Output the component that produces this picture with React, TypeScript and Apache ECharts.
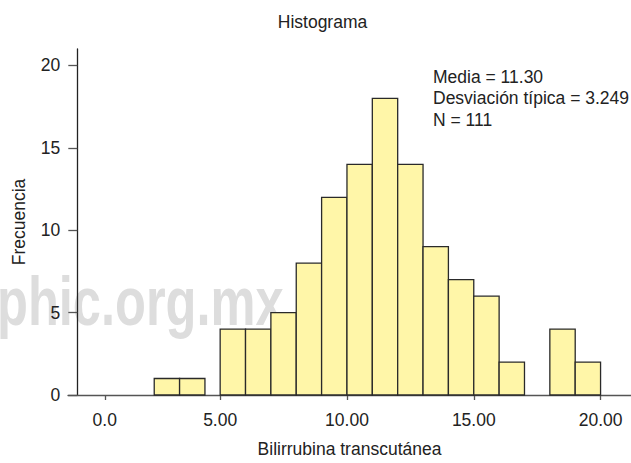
import React, { useEffect, useRef } from "react";
import * as echarts from "echarts";

// ---- data ----
const binStarts = [2.4, 3.4, 5, 6, 7, 8, 9, 10, 11, 12, 13, 14, 15, 16, 18, 19];
const binEnds = [3.4, 4.4, 6, 7, 8, 9, 10, 11, 12, 13, 14, 15, 16, 17, 19, 20];
const frequencies = [1, 1, 4, 4, 5, 8, 12, 14, 18, 14, 9, 7, 6, 2, 4, 2];
const xTickValues = [0.45, 5, 10, 15, 20];
const xTickLabels = ["0.0", "5.00", "10.00", "15.00", "20.00"];
const yTickValues = [0, 5, 10, 15, 20];
const statLines = ["Media = 11.30", "Desviación típica = 3.249", "N = 111"];
const chartTitle = "Histograma";
const xAxisName = "Bilirrubina transcutánea";
const yAxisName = "Frecuencia";
const watermarkText = "phic.org.mx";

const FONT = "'Liberation Sans', Arial, sans-serif";
const TEXT_COLOR = "#222";
const FS = 17.5;

export default function App() {
  const ref = useRef<HTMLDivElement>(null);
  useEffect(() => {
    if (!ref.current) return;
    const chart = echarts.init(ref.current, null, { renderer: "svg" });
    const labelFor = (v: number) => {
      let best = 0;
      for (let i = 1; i < xTickValues.length; i++) {
        if (Math.abs(xTickValues[i] - v) < Math.abs(xTickValues[best] - v)) best = i;
      }
      return xTickLabels[best];
    };
    const option: any = {
      animation: false,
      backgroundColor: "#ffffff",
      grid: { left: 68, right: 0, top: 49, bottom: 63, containLabel: false },
      xAxis: {
        type: "value",
        min: -1,
        max: 21.2,
        axisLine: { show: true, onZero: false, lineStyle: { color: "#555", width: 1.3 } },
        axisTick: { show: true, length: 5, customValues: xTickValues, lineStyle: { color: "#555", width: 1.3 } },
        axisLabel: {
          customValues: xTickValues,
          formatter: (v: number) => labelFor(v),
          margin: 16,
          fontSize: FS,
          color: TEXT_COLOR,
          fontFamily: FONT,
        },
        splitLine: { show: false },
        name: xAxisName,
        nameLocation: "middle",
        nameGap: 45,
        nameTextStyle: { fontSize: FS, color: TEXT_COLOR, fontFamily: FONT },
      },
      yAxis: {
        type: "value",
        min: 0,
        max: 21,
        offset: -9.3,
        axisLine: { show: true, onZero: false, lineStyle: { color: "#222", width: 1.3 } },
        axisTick: { show: true, length: 9, customValues: yTickValues, lineStyle: { color: "#555", width: 1.3 } },
        axisLabel: {
          customValues: yTickValues,
          margin: 17,
          fontSize: FS,
          color: TEXT_COLOR,
          fontFamily: FONT,
        },
        splitLine: { show: false },
        name: yAxisName,
        nameLocation: "middle",
        nameGap: 49.5,
        nameRotate: 90,
        nameTextStyle: { fontSize: FS, color: TEXT_COLOR, fontFamily: FONT },
      },
      series: [
        {
          type: "custom",
          z: 5,
          data: binStarts.map((s, i) => [s, binEnds[i], frequencies[i]]),
          encode: { x: [0, 1], y: 2 },
          renderItem: (params: any, api: any) => {
            const p0 = api.coord([api.value(0), api.value(2)]);
            const p1 = api.coord([api.value(1), 0]);
            return {
              type: "rect",
              shape: { x: p0[0], y: p0[1], width: p1[0] - p0[0], height: p1[1] - p0[1] },
              style: { fill: "#FFF6A8", stroke: "#2a2a2a", lineWidth: 1.3 },
            };
          },
        },
      ],
      graphic: [
        {
          type: "text",
          z: -10,
          x: -3,
          y: 301,
          scaleY: 1.36,
          silent: true,
          style: {
            text: watermarkText,
            font: `bold 50.6px ${FONT}`,
            fill: "#dddddd",
            align: "left",
            verticalAlign: "middle",
          },
        },
        {
          type: "text",
          x: 322.5,
          y: 21.9,
          style: {
            text: chartTitle,
            font: `${FS}px ${FONT}`,
            fill: TEXT_COLOR,
            align: "center",
            verticalAlign: "middle",
          },
        },
        {
          type: "text",
          x: 433,
          y: 66,
          z: 10,
          style: {
            text: statLines.join("\n"),
            font: `${FS}px ${FONT}`,
            lineHeight: 21.5,
            fill: TEXT_COLOR,
            align: "left",
            verticalAlign: "top",
          },
        },
      ],
    };
    chart.setOption(option);
    return () => chart.dispose();
  }, []);
  return (
    <div
      ref={ref}
      style={{ position: "fixed", left: 0, top: 0, width: 631, height: 463, background: "#fff" }}
    />
  );
}
